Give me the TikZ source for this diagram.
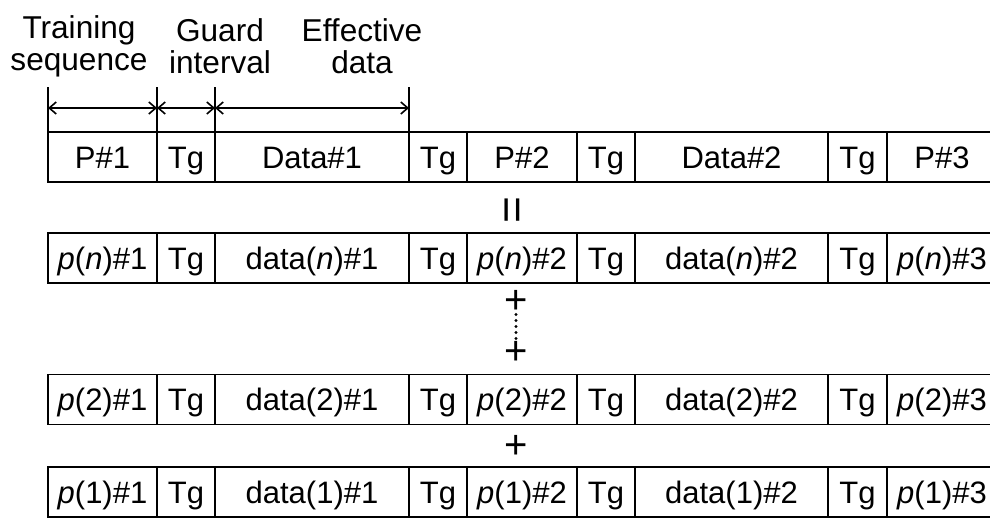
\documentclass[tikz,border=0pt]{standalone}
\usepackage{fontspec}
\setmainfont{Liberation Sans}
\usetikzlibrary{arrows.meta}

\tikzset{
  cell/.style={draw, rectangle, inner sep=0pt, outer sep=0pt, minimum width=#1,
    minimum height=25pt, text height=11.1pt, text depth=0pt,
    font=\fontsize{15.5}{15.5}\selectfont},
  head/.style={align=center, inner sep=0pt, font=\fontsize{15.8}{16}\selectfont},
  sign/.style={inner sep=0pt, font=\fontsize{20}{20}\selectfont},
  dim/.style={{Straight Barb[length=3.5pt,width=6pt]}-{Straight Barb[length=3.5pt,width=6pt]}}
}

\begin{document}
\begin{tikzpicture}[x=0.5pt, y=-0.5pt, line width=0.9pt]
  \useasboundingbox (0,0) rectangle (990,519);
  % field names
  \node[head] (train) at (79,46) {Training\\sequence};
  \node[head] (guard) at (220,46) {Guard\\interval};
  \node[head] (eff) at (362,46) {Effective\\data};
  % transmitted frame
  \node[cell=54.5pt] (p1) at (102.5,157) {P\#1};
  \node[cell=29pt] (tg1) at (186,157) {Tg};
  \node[cell=97pt] (data1) at (312,157) {Data\#1};
  \node[cell=29pt] (tg2) at (438,157) {Tg};
  \node[cell=55pt] (p2) at (522,157) {P\#2};
  \node[cell=29pt] (tg3) at (606,157) {Tg};
  \node[cell=96.5pt] (data2) at (731.5,157) {Data\#2};
  \node[cell=29.5pt] (tg4) at (857.5,157) {Tg};
  \node[cell=55pt] (p3) at (942,157) {P\#3};
  % dimension lines
  \draw[line width=0.8pt] (p1.north west) -- ++(0,-45);
  \draw[line width=0.8pt] (p1.north east) -- ++(0,-45);
  \draw[line width=0.8pt] (tg1.north east) -- ++(0,-45);
  \draw[line width=0.8pt] (data1.north east) -- ++(0,-45);
  \coordinate (m0) at (48,108);
  \coordinate (m1) at (157,108);
  \coordinate (m2) at (215,108);
  \coordinate (m3) at (409,108);
  \draw[dim, line width=0.8pt] (m0) -- (m1);
  \draw[dim, line width=0.8pt] (m1) -- (m2);
  \draw[dim, line width=0.8pt] (m2) -- (m3);
  \node[sign, rotate=90, font=\fontsize{23}{23}\selectfont] (eq) at (516,210) {=};
  % p(n) frame
  \node[cell=54.5pt] (np1) at (102.5,258) {\textit{p}(\textit{n})\#1};
  \node[cell=29pt] (ntg1) at (186,258) {Tg};
  \node[cell=97pt] (ndata1) at (312,258) {data(\textit{n})\#1};
  \node[cell=29pt] (ntg2) at (438,258) {Tg};
  \node[cell=55pt] (np2) at (522,258) {\textit{p}(\textit{n})\#2};
  \node[cell=29pt] (ntg3) at (606,258) {Tg};
  \node[cell=96.5pt] (ndata2) at (731.5,258) {data(\textit{n})\#2};
  \node[cell=29.5pt] (ntg4) at (857.5,258) {Tg};
  \node[cell=55pt] (np3) at (942,258) {\textit{p}(\textit{n})\#3};
  \node[sign] (plusa) at (516,302) {+};
  \node[sign] (plusb) at (516,353) {+};
  \draw[dash pattern=on 0pt off 3pt, line cap=round, line width=1.6pt] (plusa) -- (plusb);
  % p(2) frame
  \node[cell=54.5pt] (bp1) at (102.5,399.5) {\textit{p}(2)\#1};
  \node[cell=29pt] (btg1) at (186,399.5) {Tg};
  \node[cell=97pt] (bdata1) at (312,399.5) {data(2)\#1};
  \node[cell=29pt] (btg2) at (438,399.5) {Tg};
  \node[cell=55pt] (bp2) at (522,399.5) {\textit{p}(2)\#2};
  \node[cell=29pt] (btg3) at (606,399.5) {Tg};
  \node[cell=96.5pt] (bdata2) at (731.5,399.5) {data(2)\#2};
  \node[cell=29.5pt] (btg4) at (857.5,399.5) {Tg};
  \node[cell=55pt] (bp3) at (942,399.5) {\textit{p}(2)\#3};
  \node[sign] (plusc) at (516,447) {+};
  % p(1) frame
  \node[cell=54.5pt] (ap1) at (102.5,492) {\textit{p}(1)\#1};
  \node[cell=29pt] (atg1) at (186,492) {Tg};
  \node[cell=97pt] (adata1) at (312,492) {data(1)\#1};
  \node[cell=29pt] (atg2) at (438,492) {Tg};
  \node[cell=55pt] (ap2) at (522,492) {\textit{p}(1)\#2};
  \node[cell=29pt] (atg3) at (606,492) {Tg};
  \node[cell=96.5pt] (adata2) at (731.5,492) {data(1)\#2};
  \node[cell=29.5pt] (atg4) at (857.5,492) {Tg};
  \node[cell=55pt] (ap3) at (942,492) {\textit{p}(1)\#3};
\end{tikzpicture}
\end{document}
